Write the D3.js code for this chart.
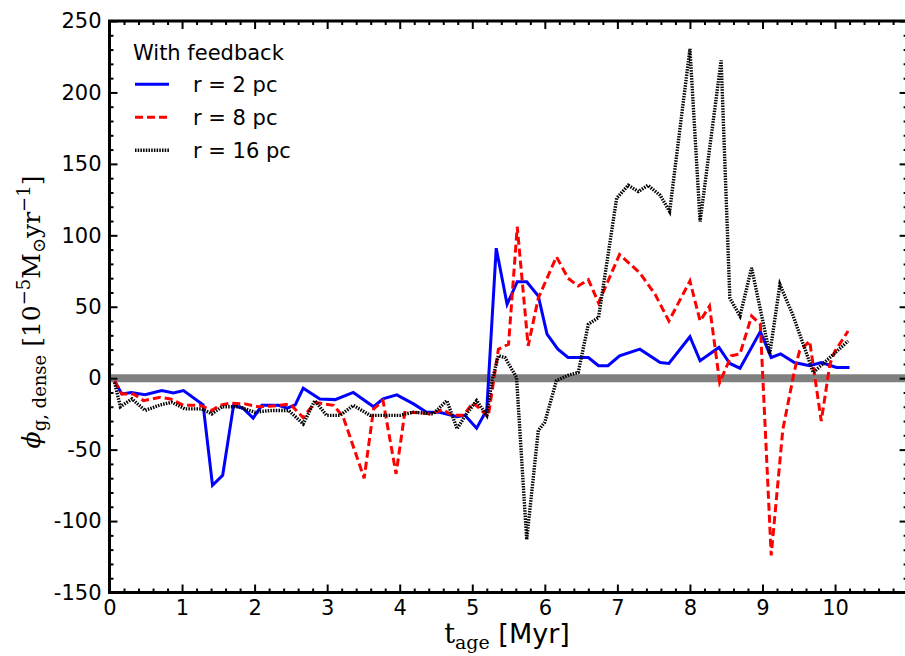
<!doctype html>
<html>
<head>
<meta charset="UTF-8">
<script src="https://d3js.org/d3.v7.min.js"></script>
<style>
  body { margin: 0; background: #fff; }
  .tick text { font-family: "DejaVu Sans", sans-serif; font-size: 21px; fill: #000; }
  .tick line { stroke: #000; stroke-width: 2; }
</style>
</head>
<body>
<svg width="905" height="656"></svg>
<script>
// r = 2 pc
var t2   = [0.07,0.17,0.30,0.49,0.72,0.88,1.02,1.29,1.42,1.56,1.71,1.84,1.98,2.10,2.33,2.45,2.56,2.67,2.90,3.11,3.36,3.64,3.77,3.96,4.19,4.37,4.55,4.79,4.90,5.06,5.20,5.33,5.48,5.62,5.75,5.91,6.03,6.18,6.32,6.46,6.60,6.74,6.87,7.03,7.31,7.59,7.71,8.00,8.14,8.40,8.55,8.69,8.97,9.12,9.25,9.44,9.65,9.81,10.02,10.20];
var phi2 = [-2,-11,-10,-11.5,-8.7,-10.3,-8.7,-18.7,-75,-68,-19,-21,-28,-19,-19,-21,-18.7,-7,-14.5,-15,-10,-20,-14.5,-11.7,-18,-23.8,-23.8,-27,-26,-35,-22,91,51.7,67.5,67.5,57.5,30.8,20.3,14.5,14.5,14.5,8.7,8.7,15.7,20.3,11,10.3,29,12.2,21.5,10.3,7,32.6,14.5,17,11,8.7,11,7.5,7.5];

// r = 8 pc
var t8   = [0.07,0.17,0.33,0.47,0.70,0.84,1.02,1.25,1.41,1.52,1.66,1.87,2.05,2.25,2.49,2.67,2.83,3.09,3.22,3.51,3.64,3.77,3.95,4.07,4.25,4.42,4.60,4.72,4.88,5.01,5.22,5.36,5.50,5.62,5.77,5.91,6.16,6.32,6.46,6.60,6.74,7.03,7.31,7.52,7.71,8.00,8.14,8.27,8.41,8.57,8.69,8.85,8.97,9.12,9.28,9.44,9.51,9.65,9.81,9.93,10.00,10.18];
var phi8 = [-2,-11,-11,-15.7,-13.4,-14.5,-19,-19,-22.6,-19,-17.5,-18,-20,-19.5,-18,-27.7,-17,-19,-27,-70,-21.5,-15.7,-67,-24,-24,-25,-22,-26,-26,-17,-27,20.3,23.8,106,22.6,56,85,70,64.5,69,52.8,86.5,73.7,58.7,40,68,40,50.5,-3,15.7,17,43.5,37.8,-124,-36,5,19,26,-30,10,19,33];

// r = 16 pc
var t16   = [0.07,0.15,0.31,0.49,0.70,0.86,1.04,1.27,1.41,1.55,1.78,2.00,2.24,2.47,2.67,2.83,2.99,3.18,3.36,3.59,3.82,4.00,4.19,4.46,4.65,4.79,4.92,5.06,5.20,5.27,5.36,5.45,5.61,5.75,5.91,6.00,6.16,6.32,6.46,6.60,6.74,6.99,7.15,7.29,7.42,7.59,7.72,8.00,8.14,8.43,8.55,8.69,8.85,9.10,9.24,9.42,9.70,9.93,10.18];
var phi16 = [-3,-20,-14.5,-22.6,-18.7,-16.9,-21.5,-21.5,-25,-20,-20,-23.8,-22.6,-22.6,-32,-15.7,-26,-26,-19,-26,-26,-26,-23.8,-25,-15.7,-35.4,-25,-15.7,-26,-2,15.7,14.5,0.5,-113,-36.6,-30.8,-1.7,2,4,37.8,42.4,126,135,130.6,135,128,116.7,230.5,109.7,222.4,56,43.5,77.2,16.9,65.6,44,4,14.5,26];

var seriesNames  = ["r = 2 pc", "r = 8 pc", "r = 16 pc"];
var seriesColors = ["#0000ff", "#ff0000", "#000000"];
var seriesDash   = [null, "8,4", "1.5,1.2"];
var seriesWidth  = [3, 3, 3.4];
var seriesData   = [d3.zip(t2, phi2), d3.zip(t8, phi8), d3.zip(t16, phi16)];

var xTicks = [0,1,2,3,4,5,6,7,8,9,10];
var yTicks = [-150,-100,-50,0,50,100,150,200,250];

var svg = d3.select("svg");
var pLeft = 109.5, pRight = 907.6, pTop = 21, pBottom = 592.5;

var x = d3.scaleLinear().domain([0, 11]).range([pLeft, pRight]);
var y = d3.scaleLinear().domain([-150, 250]).range([pBottom, pTop]);

var xMinor = d3.range(0, 55).map(function(i){ return i * 0.2; }).filter(function(v, i){ return i % 5 !== 0; });
var yMinor = d3.range(-150, 251, 10).filter(function(v){ return v % 50 !== 0; });

var numFmt = function(d){ return d < 0 ? "-" + Math.abs(d) : String(d); };

// zero line
svg.append("line")
  .attr("x1", pLeft).attr("x2", pRight)
  .attr("y1", y(0)).attr("y2", y(0))
  .attr("stroke", "#808080").attr("stroke-width", 8);

// data lines
var line = d3.line().x(function(d){ return x(d[0]); }).y(function(d){ return y(d[1]); });
seriesData.forEach(function(data, i) {
  svg.append("path")
    .datum(data)
    .attr("d", line)
    .attr("fill", "none")
    .attr("stroke", seriesColors[i])
    .attr("stroke-width", seriesWidth[i])
    .attr("stroke-dasharray", seriesDash[i]);
});

// axes, ticks inward
function addAxis(axis, tr) {
  var g = svg.append("g").attr("transform", tr).call(axis);
  g.select(".domain").remove();
  return g;
}
addAxis(d3.axisBottom(x).tickValues(xTicks).tickSize(-8).tickPadding(8).tickFormat(numFmt), "translate(0," + pBottom + ")");
addAxis(d3.axisBottom(x).tickValues(xMinor).tickSize(-4).tickFormat(""), "translate(0," + pBottom + ")");
addAxis(d3.axisTop(x).tickValues(xTicks).tickSize(-8).tickFormat(""), "translate(0," + pTop + ")");
addAxis(d3.axisTop(x).tickValues(xMinor).tickSize(-4).tickFormat(""), "translate(0," + pTop + ")");
addAxis(d3.axisLeft(y).tickValues(yTicks).tickSize(-8).tickPadding(8).tickFormat(numFmt), "translate(" + pLeft + ",0)");
addAxis(d3.axisLeft(y).tickValues(yMinor).tickSize(-4).tickFormat(""), "translate(" + pLeft + ",0)");
addAxis(d3.axisRight(y).tickValues(yTicks).tickSize(-8).tickFormat(""), "translate(" + pRight + ",0)");
addAxis(d3.axisRight(y).tickValues(yMinor).tickSize(-4).tickFormat(""), "translate(" + pRight + ",0)");

// frame
svg.append("rect")
  .attr("x", pLeft).attr("y", pTop)
  .attr("width", pRight - pLeft).attr("height", pBottom - pTop)
  .attr("fill", "none").attr("stroke", "#000").attr("stroke-width", 3);

// legend
var legend = svg.append("g").attr("font-family", "DejaVu Sans").attr("font-size", 21);
legend.append("text").attr("x", 133).attr("y", 60).text("With feedback");
seriesNames.forEach(function(name, i) {
  var yy = 84.3 + i * 33;
  legend.append("line")
    .attr("x1", 135).attr("x2", 169).attr("y1", yy).attr("y2", yy)
    .attr("stroke", seriesColors[i]).attr("stroke-width", seriesWidth[i])
    .attr("stroke-dasharray", seriesDash[i]);
  legend.append("text").attr("x", 193).attr("y", yy + 7.5).text(name);
});

// x label
var xl = svg.append("text").attr("x", 507).attr("y", 643).attr("text-anchor", "middle")
  .attr("font-size", 27);
xl.append("tspan").attr("font-family", "DejaVu Serif").text("t");
xl.append("tspan").attr("font-family", "DejaVu Serif").attr("font-size", 19).attr("dy", 6).text("age");
xl.append("tspan").attr("font-family", "DejaVu Sans").attr("dy", -6).text(" [Myr]");

// y label
var yl = svg.append("text")
  .attr("transform", "translate(40,312) rotate(-90)")
  .attr("text-anchor", "middle")
  .attr("font-family", "DejaVu Serif").attr("font-size", 25);
yl.append("tspan").attr("font-style", "italic").text("ϕ");
yl.append("tspan").attr("font-size", 18).attr("dy", 6).text("g, dense");
yl.append("tspan").attr("dy", -6).text("  [10");
yl.append("tspan").attr("font-size", 18).attr("dy", -10).text("−5");
yl.append("tspan").attr("dy", 10).text("M");
yl.append("tspan").attr("font-size", 18).attr("dy", 5).text("⊙");
yl.append("tspan").attr("dy", -5).text("yr");
yl.append("tspan").attr("font-size", 18).attr("dy", -10).text("−1");
yl.append("tspan").attr("dy", 10).text("]");
</script>
</body>
</html>
